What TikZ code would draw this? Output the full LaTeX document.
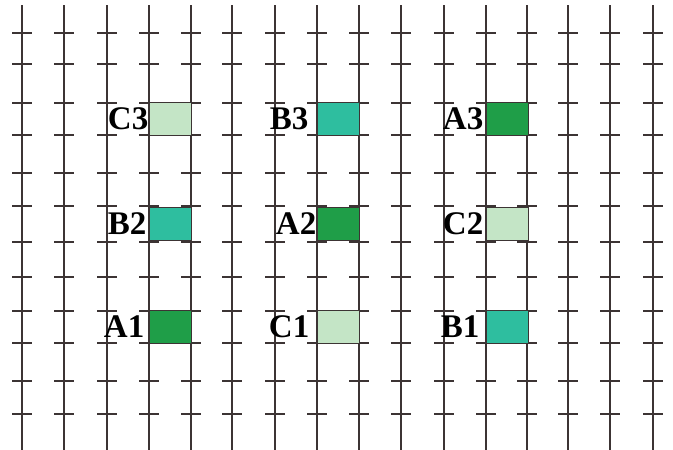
\documentclass[tikz,border=0pt]{standalone}
\usepackage{fontspec}
\setmainfont{Liberation Serif}
\usetikzlibrary{positioning}
\usepackage{xcolor}
\definecolor{gridline}{HTML}{3C3434}
\definecolor{plotA}{HTML}{1F9E48}
\definecolor{plotB}{HTML}{2EBE9F}
\definecolor{plotC}{HTML}{C4E5C6}

\begin{document}
\begin{tikzpicture}[
  x=1pt, y=-1pt,
  node distance=1pt,
  wire/.style={draw=gridline, line width=1.2pt},
  cell/.style={draw=gridline, line width=1pt, minimum width=42pt, minimum height=33pt, inner sep=0pt},
  lbl/.style={font=\fontsize{33}{38}\selectfont\bfseries, inner sep=0pt}
]
\useasboundingbox[fill=white] (0,0) rectangle (673,450);

% field grid: vertical rows with short cross ticks
\foreach \x in {22,64,107,149,191,232,275,317,359,401,444,486,527,568,610,653} {
  \draw[wire] (\x,5) -- (\x,450);
  \foreach \y in {33,64,103,135,173,206,242,277,311,343,381,414}
    \draw[wire] (\x-10,\y) -- (\x+10,\y);
}

% plots
\node[cell, fill=plotC] (c3) at (170,119) {};
\node[cell, fill=plotB] (b3) at (338,119) {};
\node[cell, fill=plotA] (a3) at (507,119) {};
\node[cell, fill=plotB] (b2) at (170,224) {};
\node[cell, fill=plotA] (a2) at (338,224) {};
\node[cell, fill=plotC] (c2) at (507,224) {};
\node[cell, fill=plotA] (a1) at (170,327) {};
\node[cell, fill=plotC] (c1) at (338,327) {};
\node[cell, fill=plotB] (b1) at (507,327) {};

% labels
\node[lbl, left=0pt of c3] (c3lbl) {C3};
\node[lbl, left=8pt of b3] (b3lbl) {B3};
\node[lbl, left=2pt of a3] (a3lbl) {A3};
\node[lbl, left=2pt of b2] (b2lbl) {B2};
\node[lbl, left=0pt of a2] (a2lbl) {A2};
\node[lbl, left=2pt of c2] (c2lbl) {C2};
\node[lbl, left=4pt of a1] (a1lbl) {A1};
\node[lbl, left=7pt of c1] (c1lbl) {C1};
\node[lbl, left=6pt of b1] (b1lbl) {B1};
\end{tikzpicture}
\end{document}
